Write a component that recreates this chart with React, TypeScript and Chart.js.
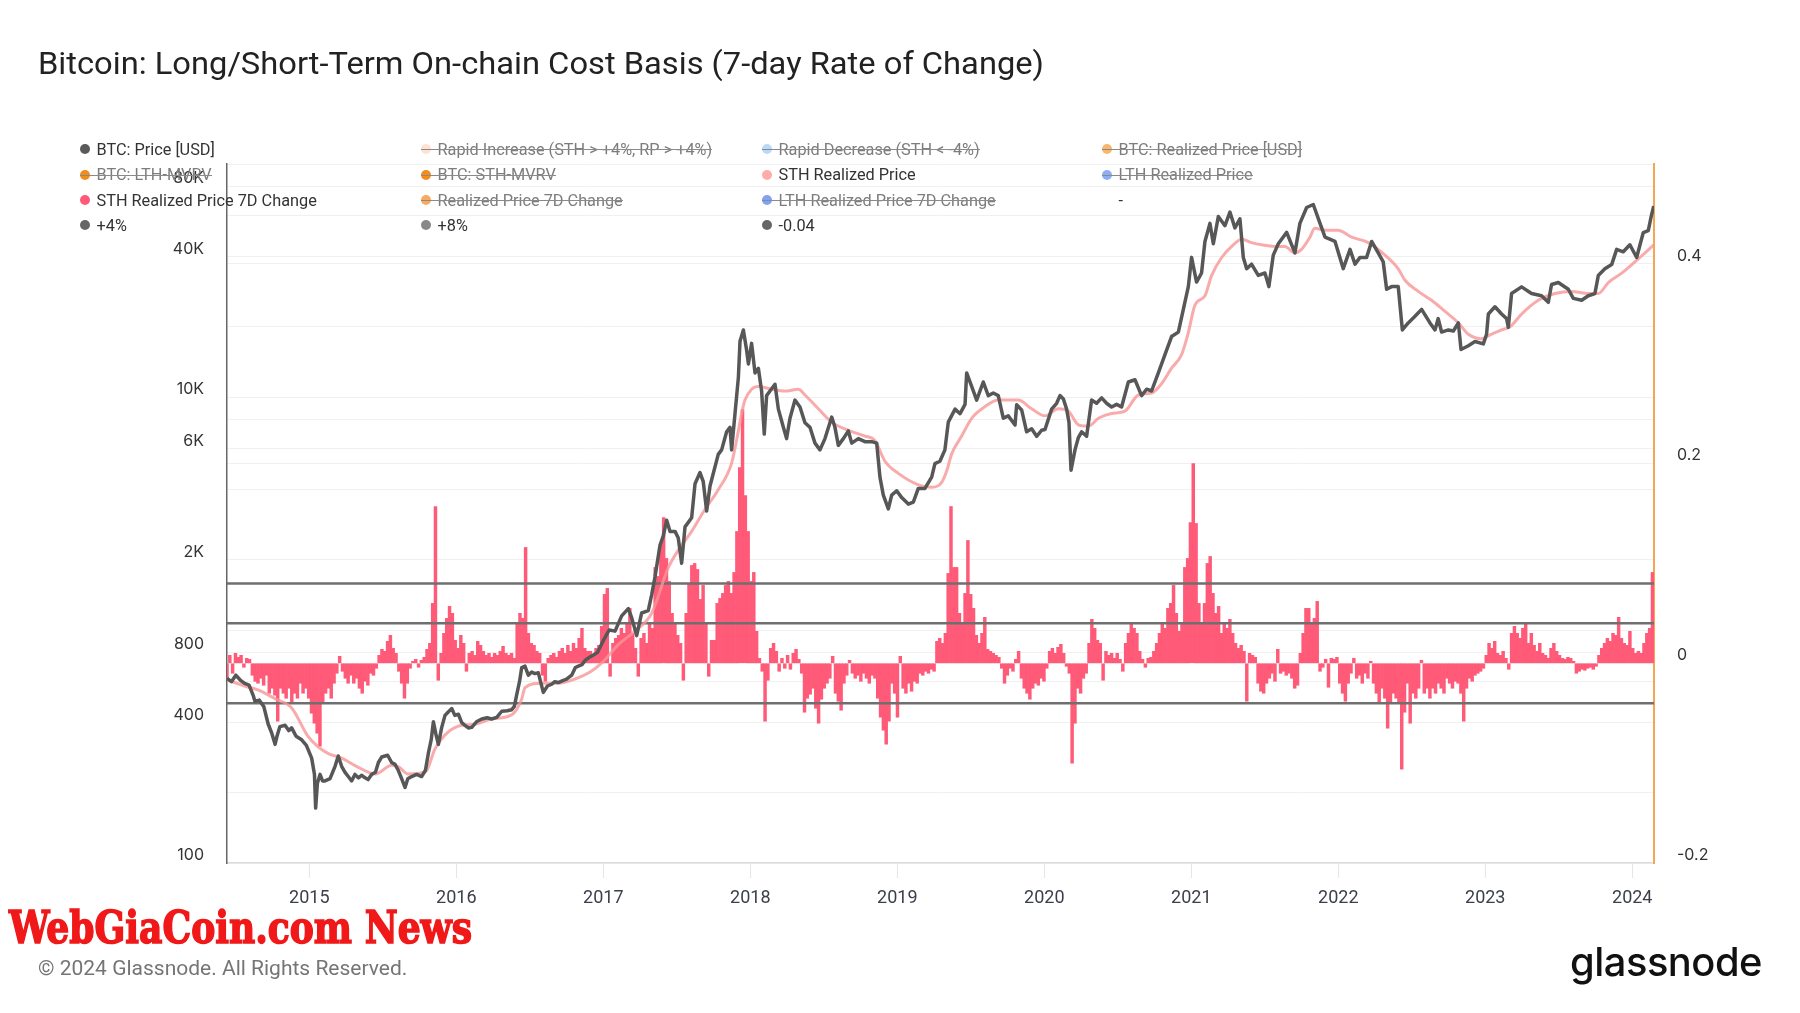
import React, { useEffect, useLayoutEffect, useRef } from "react";
import { Chart, registerables } from "chart.js";

Chart.register(...registerables);

// ---------- axis ranges & ticks ----------
const X_MIN = 2014.44;
const X_MAX = 2024.148;
const yearTicks = [2015, 2016, 2017, 2018, 2019, 2020, 2021, 2022, 2023, 2024];
const priceTicks = [100, 200, 400, 600, 800, 1000, 2000, 4000, 6000, 8000, 10000, 20000, 40000, 60000, 80000, 100000];
const priceTickLabels: Record<number, string> = { 100: "100", 400: "400", 800: "800", 2000: "2K", 6000: "6K", 10000: "10K", 40000: "40K", 80000: "80K" };
const changeTicks = [-0.2, 0, 0.2, 0.4];

// ---------- thresholds ----------
const PLUS_4 = 0.04;
const PLUS_8 = 0.08;
const MINUS_4 = -0.04;

// ---------- BTC price [USD] ----------
const priceDates = [
  2014.44, 2014.47, 2014.5, 2014.53, 2014.56, 2014.59, 2014.62, 2014.63, 2014.66, 2014.69,
  2014.72, 2014.745, 2014.767, 2014.78, 2014.8, 2014.835, 2014.86, 2014.88, 2014.91, 2014.948,
  2014.98, 2015.016, 2015.035, 2015.043, 2015.055, 2015.073, 2015.09, 2015.107, 2015.141, 2015.175,
  2015.197, 2015.22, 2015.243, 2015.265, 2015.288, 2015.31, 2015.334, 2015.357, 2015.379, 2015.4,
  2015.424, 2015.45, 2015.47, 2015.492, 2015.533, 2015.56, 2015.583, 2015.605, 2015.628, 2015.651,
  2015.67, 2015.696, 2015.73, 2015.764, 2015.79, 2015.81, 2015.83, 2015.844, 2015.86, 2015.878,
  2015.9, 2015.923, 2015.945, 2015.969, 2015.99, 2016.014, 2016.037, 2016.059, 2016.082, 2016.105,
  2016.14, 2016.173, 2016.21, 2016.24, 2016.275, 2016.309, 2016.345, 2016.377, 2016.395, 2016.411,
  2016.43, 2016.445, 2016.467, 2016.49, 2016.513, 2016.535, 2016.558, 2016.592, 2016.62, 2016.649,
  2016.67, 2016.694, 2016.72, 2016.75, 2016.785, 2016.81, 2016.83, 2016.855, 2016.876, 2016.9,
  2016.93, 2016.96, 2017.0, 2017.04, 2017.08, 2017.125, 2017.17, 2017.193, 2017.227, 2017.261,
  2017.306, 2017.329, 2017.352, 2017.386, 2017.408, 2017.431, 2017.454, 2017.488, 2017.51, 2017.533,
  2017.556, 2017.601, 2017.624, 2017.658, 2017.68, 2017.703, 2017.726, 2017.782, 2017.805, 2017.839,
  2017.862, 2017.873, 2017.896, 2017.919, 2017.93, 2017.953, 2017.975, 2017.987, 2018.009, 2018.032,
  2018.055, 2018.077, 2018.095, 2018.111, 2018.134, 2018.168, 2018.191, 2018.225, 2018.247, 2018.27,
  2018.304, 2018.338, 2018.372, 2018.406, 2018.44, 2018.474, 2018.508, 2018.554, 2018.576, 2018.599,
  2018.633, 2018.667, 2018.69, 2018.735, 2018.78, 2018.826, 2018.86, 2018.882, 2018.905, 2018.939,
  2018.962, 2018.996, 2019.03, 2019.075, 2019.109, 2019.143, 2019.188, 2019.234, 2019.256, 2019.29,
  2019.324, 2019.347, 2019.393, 2019.427, 2019.461, 2019.472, 2019.506, 2019.54, 2019.585, 2019.619,
  2019.653, 2019.687, 2019.721, 2019.755, 2019.801, 2019.812, 2019.846, 2019.88, 2019.914, 2019.948,
  2019.982, 2020.005, 2020.05, 2020.084, 2020.107, 2020.13, 2020.152, 2020.168, 2020.182, 2020.209,
  2020.232, 2020.254, 2020.288, 2020.322, 2020.356, 2020.39, 2020.424, 2020.458, 2020.492, 2020.526,
  2020.572, 2020.617, 2020.662, 2020.696, 2020.73, 2020.776, 2020.821, 2020.866, 2020.912, 2020.946,
  2020.98, 2021.002, 2021.036, 2021.07, 2021.093, 2021.127, 2021.15, 2021.184, 2021.229, 2021.263,
  2021.297, 2021.331, 2021.354, 2021.377, 2021.41, 2021.456, 2021.501, 2021.528, 2021.558, 2021.592,
  2021.649, 2021.705, 2021.739, 2021.785, 2021.83, 2021.876, 2021.91, 2021.978, 2022.034, 2022.08,
  2022.114, 2022.148, 2022.193, 2022.227, 2022.272, 2022.306, 2022.329, 2022.363, 2022.408, 2022.436,
  2022.476, 2022.522, 2022.567, 2022.624, 2022.658, 2022.68, 2022.703, 2022.749, 2022.783, 2022.817,
  2022.835, 2022.885, 2022.93, 2022.987, 2023.009, 2023.021, 2023.066, 2023.111, 2023.145, 2023.157,
  2023.179, 2023.247, 2023.315, 2023.383, 2023.429, 2023.451, 2023.497, 2023.565, 2023.599, 2023.656,
  2023.701, 2023.746, 2023.769, 2023.814, 2023.86, 2023.894, 2023.939, 2023.984, 2024.03, 2024.075,
  2024.109, 2024.13, 2024.146,
];
const priceValues = [
  620, 600, 640, 610, 590, 580, 520, 494, 500, 470,
  395, 360, 323, 350, 385, 390, 370, 380, 350, 338,
  320, 282, 240, 172, 220, 240, 225, 225, 230, 260,
  288, 260, 245, 235, 225, 240, 232, 238, 232, 228,
  240, 245, 270, 285, 290, 270, 265, 250, 230, 211,
  230, 235, 240, 235, 250, 296, 340, 404, 360, 323,
  380, 430, 445, 460, 430, 435, 400, 390, 380, 382,
  405, 415, 420, 415, 422, 448, 450, 455, 470, 528,
  600, 690, 700, 640, 660, 650, 655, 540, 575, 585,
  600, 595, 605, 615, 640, 690, 700, 710, 740, 760,
  780, 800, 900, 1000, 989, 1150, 1236, 1130, 946, 1183,
  1210, 1416, 1693, 2317, 2535, 2960, 2650, 2650, 2480, 1936,
  2770, 3030, 4240, 4740, 4330, 3240, 4150, 5670, 5930, 7090,
  7410, 5930, 8480, 12130, 17350, 19400, 15870, 13870, 16990, 12690,
  13270, 10610, 6930, 10140, 10610, 11340, 8870, 7410, 6630, 8110,
  9700, 9060, 7750, 7410, 6340, 5930, 6630, 8200, 7410, 6200,
  6630, 7150, 6340, 6630, 6430, 6430, 6340, 4530, 3790, 3310,
  3790, 3960, 3700, 3470, 3540, 4050, 4050, 4530, 5180, 5300,
  5930, 7800, 8870, 8480, 9300, 12690, 11100, 9700, 11600, 10140,
  10400, 10140, 8110, 8300, 7580, 9270, 8800, 7090, 7300, 6780,
  7200, 7250, 8870, 9400, 10140, 9800, 8870, 7800, 4850, 5930,
  6700, 7090, 6780, 9700, 9400, 9920, 9400, 9060, 9300, 9060,
  11600, 11860, 10140, 10800, 10610, 12690, 15190, 18170, 18990, 23780,
  29770, 39740, 31140, 34060, 46510, 55620, 45480, 59480, 54370, 62200,
  53160, 58160, 39740, 35540, 37160, 33260, 34060, 29770, 40640, 45480,
  50880, 41560, 55620, 65070, 67000, 55620, 48510, 46510, 35540, 43000,
  37160, 39740, 39740, 46510, 41560, 38000, 29000, 29770, 29770, 19400,
  20800, 22200, 23780, 20800, 19400, 21700, 19000, 19400, 19200, 20800,
  16000, 16600, 17300, 16900, 18600, 22700, 24400, 22700, 21700, 19900,
  27800, 29700, 27800, 27200, 25500, 30400, 31000, 29000, 26500, 26000,
  27200, 27800, 33200, 35500, 37000, 43000, 42000, 45000, 39700, 50800,
  51800, 60000, 66000,
];

// ---------- STH Realized Price ----------
const sthDates = [
  2014.44, 2014.56, 2014.65, 2014.77, 2014.88, 2014.99, 2015.06, 2015.13, 2015.22, 2015.33,
  2015.45, 2015.56, 2015.61, 2015.67, 2015.79, 2015.855, 2015.92, 2016.01, 2016.13, 2016.24,
  2016.38, 2016.445, 2016.467, 2016.58, 2016.69, 2016.81, 2016.91, 2016.99, 2017.102, 2017.216,
  2017.329, 2017.442, 2017.51, 2017.601, 2017.692, 2017.782, 2017.873, 2017.918, 2017.941, 2017.964,
  2018.009, 2018.055, 2018.145, 2018.236, 2018.327, 2018.372, 2018.463, 2018.553, 2018.69, 2018.78,
  2018.848, 2018.916, 2019.007, 2019.143, 2019.234, 2019.302, 2019.34, 2019.37, 2019.438, 2019.506,
  2019.597, 2019.687, 2019.823, 2019.914, 2020.005, 2020.095, 2020.163, 2020.232, 2020.3, 2020.368,
  2020.458, 2020.549, 2020.64, 2020.73, 2020.798, 2020.866, 2020.934, 2020.98, 2021.025, 2021.093,
  2021.138, 2021.207, 2021.275, 2021.343, 2021.41, 2021.479, 2021.569, 2021.637, 2021.705, 2021.75,
  2021.807, 2021.84, 2021.91, 2021.999, 2022.091, 2022.204, 2022.318, 2022.408, 2022.454, 2022.544,
  2022.635, 2022.726, 2022.817, 2022.885, 2022.975, 2023.043, 2023.111, 2023.168, 2023.247, 2023.361,
  2023.474, 2023.588, 2023.701, 2023.769, 2023.837, 2023.928, 2024.018, 2024.086, 2024.146,
];
const sthValues = [
  610, 575, 553, 506, 463, 350, 315, 295, 282, 258,
  241, 263, 258, 241, 246, 309, 353, 386, 395, 415,
  434, 506, 565, 591, 591, 617, 660, 722, 865, 990,
  1180, 1850, 2200, 2650, 3300, 4000, 5200, 7100, 8500, 9700,
  10800, 11100, 10800, 10600, 10800, 10200, 8900, 7800, 7100, 6800,
  6500, 5300, 4700, 4200, 4100, 4300, 4900, 5700, 6800, 8100,
  9100, 9700, 9700, 8900, 8300, 8900, 8700, 7600, 7500, 8100,
  8500, 8700, 10200, 10400, 11400, 13300, 15200, 18900, 24800, 27200,
  33200, 39700, 44300, 47500, 46000, 45000, 44300, 44300, 41500, 43000,
  48500, 53000, 52000, 52000, 48500, 46000, 40600, 35500, 31700, 28400,
  26000, 23300, 20800, 18600, 17800, 18600, 19400, 20000, 22700, 26000,
  27800, 28400, 27800, 27800, 31000, 34000, 38000, 41500, 45000,
];

// ---------- STH Realized Price 7D Change (weekly, from CHANGE_START) ----------
const CHANGE_START = 2014.44;
const CHANGE_STEP = 7 / 365.25;
const sthChange7d = [
  -0.015, 0.008, -0.01, 0.01, 0.006, 0.008, -0.004, 0.005, 0.004, -0.012,
  -0.018, -0.02, -0.015, -0.022, -0.012, -0.03, -0.025, -0.032, -0.058, -0.025,
  -0.03, -0.035, -0.025, -0.04, -0.03, -0.035, -0.02, -0.03, -0.025, -0.035,
  -0.05, -0.06, -0.07, -0.083, -0.04, -0.03, -0.025, -0.035, -0.02, -0.01,
  0.007, -0.008, -0.015, -0.02, -0.012, -0.02, -0.015, -0.025, -0.03, -0.018,
  -0.022, -0.01, -0.012, -0.005, 0.008, 0.014, 0.012, 0.022, 0.028, 0.015,
  0.01, -0.008, -0.02, -0.035, -0.02, -0.005, 0.002, 0.004, -0.004, 0.003,
  0.006, 0.014, 0.02, 0.06, 0.157, -0.017, 0.01, 0.03, 0.045, 0.057,
  0.05, 0.023, 0.015, 0.028, 0.02, -0.008, 0.01, 0.012, 0.008, 0.022,
  0.018, 0.012, 0.008, 0.01, 0.006, 0.01, 0.008, 0.012, 0.017, 0.01,
  0.008, 0.01, 0.005, 0.04, 0.05, 0.045, 0.116, 0.03, 0.02, 0.018,
  0.012, 0.01, -0.012, -0.018, 0.005, 0.008, 0.01, 0.006, 0.012, 0.015,
  0.01, 0.018, 0.012, 0.02, 0.015, 0.025, 0.035, 0.015, 0.012,
  0.012, 0.008, 0.015, 0.018, 0.037, 0.069, 0.075, -0.013, 0.02, 0.025,
  0.028, 0.035, 0.03, 0.04, 0.055, 0.03, 0.015, -0.013, 0.025, 0.03,
  0.02, 0.04, 0.035, 0.096, 0.087, 0.12, 0.146, 0.105, 0.082, 0.05,
  0.041, 0.028, 0.02, -0.017, 0.05, 0.08, 0.098, 0.1, 0.094, 0.064,
  0.078, 0.041, -0.013, 0.023, 0.023, 0.06, 0.065, 0.07, 0.078, 0.082,
  0.07, 0.091, 0.132, 0.196, 0.254, 0.168, 0.132, 0.082, 0.091, 0.032,
  0.005, -0.008, -0.058, -0.017, 0.015, 0.02, 0.012, -0.008, 0.005, -0.005,
  0.008, -0.006, 0.01, 0.014, 0.004, -0.01, -0.049, -0.035, -0.031, -0.025,
  -0.045, -0.06, -0.036, -0.025, -0.02, -0.015, 0.007, -0.03, -0.038, -0.047,
  -0.02, -0.012, 0.003, -0.01, -0.015, -0.012, -0.018, -0.01, -0.015, -0.02,
  -0.012, -0.015, -0.035, -0.054, -0.067, -0.081, -0.058, -0.02, -0.03, -0.054,
  0.007, -0.025, -0.03, -0.02, -0.028, -0.018, -0.02, -0.01, -0.012, -0.008,
  -0.01, -0.006, -0.008, 0.022, 0.025, 0.02, 0.03,
  0.09, 0.157, 0.096, 0.096, 0.05, 0.04, 0.07, 0.123, 0.069, 0.055,
  0.028, 0.02, 0.03, 0.046, 0.014, 0.012, 0.01, 0.008, 0.006, -0.005,
  -0.02, -0.012, -0.005, -0.008, 0.004, 0.012, -0.015, -0.025, -0.03, -0.036,
  -0.025, -0.02, -0.022, -0.015, -0.018, -0.005, 0.012, 0.015, 0.01, 0.016,
  0.019, 0.01, -0.003, -0.01, -0.1, -0.06, -0.025, -0.03, -0.015, -0.01,
  0.02, 0.044, 0.035, 0.023, 0.02, -0.017, 0.012, 0.008, 0.01, 0.005,
  0.01, 0.004, -0.008, 0.02, 0.03, 0.04, 0.035, 0.03, 0.012, 0.004,
  -0.004, 0.005, 0.006, 0.012, 0.02, 0.03, 0.041, 0.035, 0.055, 0.06,
  0.078, 0.05, 0.032, 0.04, 0.096, 0.105, 0.141, 0.2, 0.14, 0.06,
  0.041, 0.06, 0.1, 0.107, 0.07, 0.05, 0.057, 0.03, 0.04, 0.035,
  0.044, 0.03, 0.02, 0.015, 0.018, 0.012, -0.038, 0.01, 0.008, 0.006,
  -0.02, -0.028, -0.03, -0.02, -0.015, -0.01, -0.018, 0.014, -0.01, -0.008,
  -0.012, -0.01, -0.015, -0.025, -0.022, 0.01, 0.03, 0.055,
  0.055, 0.04, 0.045, 0.062, -0.008, -0.004, 0.004, -0.024, 0.005, 0.004,
  0.006, -0.02, -0.03, -0.038, -0.02, -0.01, 0.005, -0.015, -0.012, -0.02,
  -0.01, -0.015, 0.002, -0.02, -0.03, -0.04, -0.025, -0.035, -0.065, -0.04,
  -0.03, -0.035, -0.04, -0.106, -0.049, -0.02, -0.06, -0.03, -0.035, -0.025,
  0.003, -0.03, -0.025, -0.035, -0.025, -0.03, -0.02, -0.025, -0.03, -0.015,
  -0.02, -0.025, -0.018, -0.02, -0.03, -0.058, -0.025, -0.015, -0.018, -0.012,
  -0.01, -0.008, -0.005, 0.008, 0.02, 0.015, 0.022, 0.01, 0.008, 0.012,
  0.005, -0.006, 0.03, 0.037, 0.03, 0.025, 0.035, 0.039, 0.02, 0.03,
  0.018, 0.012, 0.02, 0.01, 0.008, 0.005, 0.015, 0.02, 0.012, 0.008,
  0.005, 0.004, 0.006, 0.005, 0.002, -0.01, -0.008, -0.006, -0.007, -0.005,
  -0.004, -0.006, -0.003, 0.008, 0.015, 0.02, 0.025, 0.022, 0.03, 0.028,
  0.046, 0.025, 0.02, 0.018, 0.032, 0.015, 0.01, 0.012, 0.01, 0.02,
  0.03, 0.035, 0.091,
];

// ---------- legend ----------
type LegendItem = { label: string; color: string; hidden: boolean };
const legendRow1: LegendItem[] = [
  { label: "BTC: Price [USD]", color: "#5a5a5a", hidden: false },
  { label: "Rapid Increase (STH > +4%, RP > +4%)", color: "#fde2d4", hidden: true },
  { label: "Rapid Decrease (STH < -4%)", color: "#bcd8f8", hidden: true },
  { label: "BTC: Realized Price [USD]", color: "#f7b76d", hidden: true },
];
const legendRow2: LegendItem[] = [
  { label: "BTC: LTH-MVRV", color: "#f28c1c", hidden: true },
  { label: "BTC: STH-MVRV", color: "#f28c1c", hidden: true },
  { label: "STH Realized Price", color: "#ffacac", hidden: false },
  { label: "LTH Realized Price", color: "#8caef6", hidden: true },
];
const legendRow3: LegendItem[] = [
  { label: "STH Realized Price 7D Change", color: "#ff5a78", hidden: false },
  { label: "Realized Price 7D Change", color: "#f8ab5e", hidden: true },
  { label: "LTH Realized Price 7D Change", color: "#7fa3f2", hidden: true },
  { label: "-", color: "transparent", hidden: false },
];
const legendRow4: LegendItem[] = [
  { label: "+4%", color: "#666666", hidden: false },
  { label: "+8%", color: "#888888", hidden: false },
  { label: "-0.04", color: "#666666", hidden: false },
];
const legendRows = [legendRow1, legendRow2, legendRow3, legendRow4];
const legendColX = [80, 421, 762, 1102];
const legendRowY = [149, 174.5, 200, 225];

export default function App() {
  const canvasRef = useRef<HTMLCanvasElement>(null);
  const titleRef = useRef<HTMLSpanElement>(null);
  const wmRef = useRef<HTMLSpanElement>(null);
  const logoRef = useRef<HTMLSpanElement>(null);

  useLayoutEffect(() => {
    const fit = (el: HTMLElement | null, target: number) => {
      if (!el) return;
      el.style.transform = "none";
      const w = el.getBoundingClientRect().width;
      if (w > 0) el.style.transform = `scaleX(${target / w})`;
    };
    fit(titleRef.current, 1006);
    fit(wmRef.current, 463);
    fit(logoRef.current, 192);
  }, []);

  useEffect(() => {
    const canvas = canvasRef.current;
    if (!canvas) return;
    const flat = (v: number) => [
      { x: X_MIN, y: v },
      { x: X_MAX, y: v },
    ];
    const chart = new Chart(canvas, {
      type: "line",
      data: {
        datasets: [
          {
            type: "line",
            label: "BTC: Price [USD]",
            data: priceDates.map((x, i) => ({ x, y: priceValues[i] })),
            yAxisID: "y",
            borderColor: "#575757",
            borderWidth: 3.5,
            pointRadius: 0,
            tension: 0,
            borderJoinStyle: "round",
            order: 1,
          },
          {
            type: "line",
            label: "STH Realized Price",
            data: sthDates.map((x, i) => ({ x, y: sthValues[i] })),
            yAxisID: "y",
            borderColor: "rgba(248,150,150,0.8)",
            borderWidth: 3,
            pointRadius: 0,
            cubicInterpolationMode: "monotone",
            order: 2,
          },
          {
            type: "line",
            label: "+4%",
            data: flat(PLUS_4),
            yAxisID: "y1",
            borderColor: "#6f6f6f",
            borderWidth: 2.5,
            pointRadius: 0,
            order: 3,
          },
          {
            type: "line",
            label: "+8%",
            data: flat(PLUS_8),
            yAxisID: "y1",
            borderColor: "#6f6f6f",
            borderWidth: 2.5,
            pointRadius: 0,
            order: 3,
          },
          {
            type: "line",
            label: "-0.04",
            data: flat(MINUS_4),
            yAxisID: "y1",
            borderColor: "#6f6f6f",
            borderWidth: 2.5,
            pointRadius: 0,
            order: 3,
          },
          {
            type: "bar",
            label: "STH Realized Price 7D Change",
            data: sthChange7d.map((y, i) => ({ x: CHANGE_START + i * CHANGE_STEP, y })),
            yAxisID: "y1",
            backgroundColor: "#ff5a78",
            borderWidth: 0,
            barPercentage: 1,
            categoryPercentage: 1,
            order: 10,
          } as any,
        ],
      },
      options: {
        responsive: false,
        maintainAspectRatio: false,
        animation: false,
        layout: { padding: { top: 164, left: 0, right: 0, bottom: 0 } },
        plugins: { legend: { display: false }, tooltip: { enabled: false } },
        scales: {
          x: {
            type: "linear",
            min: X_MIN,
            max: X_MAX,
            offset: false,
            afterBuildTicks: (s: any) => {
              s.ticks = yearTicks.map((v) => ({ value: v }));
            },
            afterFit: (s: any) => {
              s.height = 150;
            },
            ticks: {
              autoSkip: false,
              maxRotation: 0,
              padding: 10,
              color: "#3b3f4a",
              font: { family: "Roboto", size: 18 },
              callback: (v: any) => String(v),
            },
            grid: { offset: false, drawOnChartArea: false, drawTicks: true, tickLength: 15, color: "#e6e6e6" },
            border: { color: "#dcdcdc", width: 1.5 },
          },
          y: {
            type: "logarithmic",
            position: "left",
            min: 100,
            max: 100000,
            afterBuildTicks: (s: any) => {
              s.ticks = priceTicks.map((v) => ({ value: v }));
            },
            afterFit: (s: any) => {
              s.width = 227;
            },
            ticks: {
              autoSkip: false,
              padding: 23,
              labelOffset: -8,
              color: "#333333",
              font: { family: "Inter", size: 16 },
              callback: (v: any) => priceTickLabels[Number(v)] ?? "",
            },
            grid: { color: "#f0f0f0", drawTicks: false },
            border: { color: "#666666", width: 1.5 },
          },
          y1: {
            type: "linear",
            position: "right",
            min: -0.2,
            max: 0.5,
            afterBuildTicks: (s: any) => {
              s.ticks = changeTicks.map((v) => ({ value: v }));
            },
            afterFit: (s: any) => {
              s.width = 146;
            },
            ticks: {
              autoSkip: false,
              padding: 23,
              labelOffset: -8,
              color: "#333333",
              font: { family: "Inter", size: 16 },
              callback: (v: any) => String(Math.round(Number(v) * 10) / 10),
            },
            grid: { color: "#f0f0f0", drawTicks: false },
            border: { color: "#f6a650", width: 2 },
          },
        },
      },
    });
    return () => chart.destroy();
  }, []);

  return (
    <div
      style={{
        position: "absolute",
        left: 0,
        top: 0,
        width: 1800,
        height: 1013,
        overflow: "hidden",
        background: "#ffffff",
        fontFamily: "Roboto, sans-serif",
      }}
    >
      <canvas
        ref={canvasRef}
        width={1800}
        height={1013}
        style={{ position: "absolute", left: 0, top: 0, width: 1800, height: 1013, display: "block" }}
      />
      <div style={{ position: "absolute", left: 38, top: 46, height: 36, lineHeight: "36px", whiteSpace: "nowrap" }}>
        <span
          ref={titleRef}
          style={{ display: "inline-block", transformOrigin: "left center", fontSize: 31, color: "#222222" }}
        >
          Bitcoin: Long/Short-Term On-chain Cost Basis (7-day Rate of Change)
        </span>
      </div>
      {legendRows.map((row, r) =>
        row.map((item, c) => (
          <div
            key={`${r}-${c}`}
            style={{
              position: "absolute",
              left: legendColX[c],
              top: legendRowY[r] - 10,
              height: 20,
              display: "flex",
              alignItems: "center",
              whiteSpace: "nowrap",
              fontSize: 16.3,
              color: item.hidden ? "#7d7d7d" : "#333333",
            }}
          >
            <span
              style={{
                width: 10,
                height: 10,
                borderRadius: "50%",
                background: item.color,
                marginRight: 6.5,
                display: "inline-block",
                flex: "none",
              }}
            />
            <span>{item.label}</span>
            {item.hidden && (
              <span
                style={{
                  position: "absolute",
                  left: 0,
                  right: 0,
                  top: 10,
                  height: 1,
                  background: "#8a8a8a",
                }}
              />
            )}
          </div>
        ))
      )}
      <div style={{ position: "absolute", left: 9, top: 905, height: 46, lineHeight: "46px", whiteSpace: "nowrap" }}>
        <span
          ref={wmRef}
          style={{
            display: "inline-block",
            transformOrigin: "left center",
            fontFamily: "'DejaVu Serif Condensed', 'DejaVu Serif', serif",
            fontWeight: 700,
            fontSize: 45,
            color: "#f01818",
            WebkitTextStroke: "1.5px #f01818",
          }}
        >
          WebGiaCoin.com News
        </span>
      </div>
      <div
        style={{
          position: "absolute",
          left: 38,
          top: 956,
          fontSize: 21,
          lineHeight: "24px",
          color: "#757575",
          whiteSpace: "nowrap",
        }}
      >
        © 2024 Glassnode. All Rights Reserved.
      </div>
      <div style={{ position: "absolute", left: 1570, top: 942, height: 40, lineHeight: "40px", whiteSpace: "nowrap" }}>
        <span
          ref={logoRef}
          style={{
            display: "inline-block",
            transformOrigin: "left center",
            fontFamily: "Inter, sans-serif",
            fontWeight: 500,
            fontSize: 40,
            color: "#111111",
            letterSpacing: -0.5,
          }}
        >
          glassnode
        </span>
      </div>
    </div>
  );
}
